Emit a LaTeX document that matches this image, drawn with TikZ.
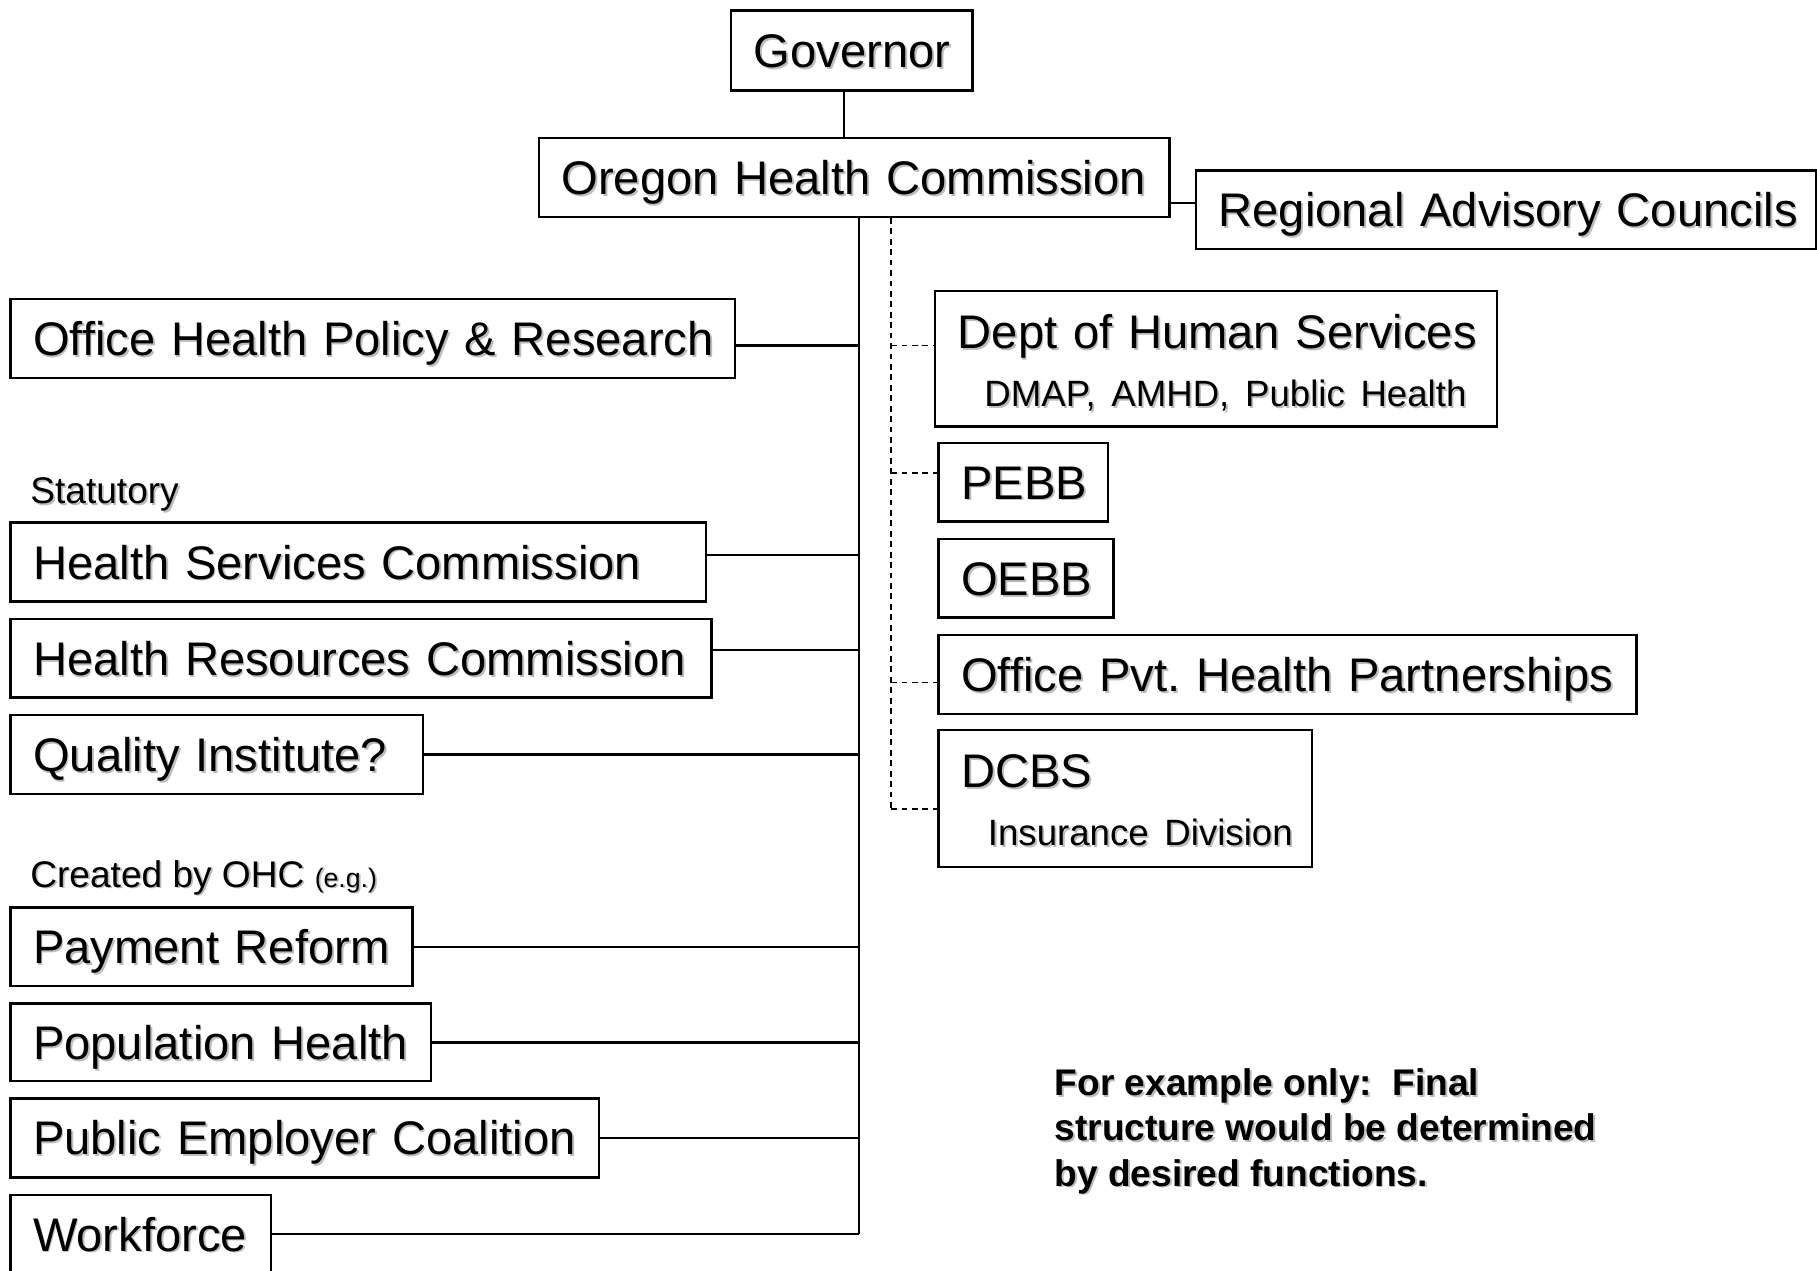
\documentclass[tikz,border=0pt]{standalone}
\usepackage{fontspec}
\setmainfont{Liberation Sans}
\usetikzlibrary{calc}
\frenchspacing
\definecolor{shadowgray}{gray}{0.74}
% text with a soft grey drop shadow
\newcommand\shd[1]{\mbox{\rlap{\kern1.6pt\raisebox{-1.6pt}{\color{shadowgray}#1}}#1}}
\newcommand\subsz{\fontsize{31.6}{50}\selectfont}

\tikzset{
  box/.style={draw, line width=2.1pt, anchor=north west, inner xsep=19.5pt,
    inner ysep=0pt, align=left, font=\fontsize{40.7}{50}\selectfont,
    text height=29.2pt, text depth=0pt},
  link/.style={line width=2pt},
  dlink/.style={line width=1.3pt, dash pattern=on 5pt off 4pt},
  caption/.style={anchor=base west, inner sep=0pt, font=\fontsize{32}{39}\selectfont},
}

\begin{document}
\begin{tikzpicture}[x=1pt, y=-1pt]
\useasboundingbox (0,0) rectangle (1568,1096);
\clip (0,0) rectangle (1568,1096);

% top of the chart
\node[box, minimum width=208pt, text width=169pt, minimum height=69pt] (gov) at (630,8) {\shd{Governor}};
\node[box, minimum width=544pt, text width=505pt, minimum height=68pt] (ohc) at (464,118) {\shd{Oregon Health Commission}};
\node[box, minimum width=535pt, text width=496pt, minimum height=68pt] (rac) at (1031,146) {\shd{Regional Advisory Councils}};

% bodies reporting directly
\node[box, minimum width=625pt, text width=586pt, minimum height=68pt] (ohpr) at (8,257) {\shd{Office Health Policy \& Research}};
\node[caption] (stat) at (26,434.5) {\shd{Statutory}};
\node[box, minimum width=600pt, text width=561pt, minimum height=68pt] (hsc) at (8,450) {\shd{Health Services Commission}};
\node[box, minimum width=605pt, text width=566pt, minimum height=68pt] (hrc) at (8,533) {\shd{Health Resources Commission}};
\node[box, minimum width=356pt, text width=317pt, minimum height=68pt] (qi) at (8,616) {\shd{Quality Institute?}};
\node[caption] (ohcmade) at (26,765.5) {\shd{Created by OHC} {\fontsize{23}{28}\selectfont\shd{(e.g.)}}};
\node[box, minimum width=347pt, text width=308pt, minimum height=68pt] (pr) at (8,782) {\shd{Payment Reform}};
\node[box, minimum width=363pt, text width=324pt, minimum height=67pt] (ph) at (8,865) {\shd{Population Health}};
\node[box, minimum width=508pt, text width=469pt, minimum height=68pt] (pec) at (8,947) {\shd{Public Employer Coalition}};
\node[box, minimum width=225pt, text width=186pt, minimum height=68pt] (wf) at (8,1030) {\shd{Workforce}};

% agencies with a dotted-line relationship
\node[box, minimum width=485pt, text width=446pt, minimum height=117pt, text height=49.7pt, text depth=67.3pt] (dhs) at (806,250)
  {\shd{Dept of Human Services}\\\hspace*{23pt}{\subsz\shd{DMAP, AMHD, Public Health}}};
\node[box, minimum width=146pt, text width=107pt, minimum height=68pt] (pebb) at (809,381) {\shd{PEBB}};
\node[box, minimum width=151pt, text width=112pt, minimum height=68pt] (oebb) at (809,464) {\shd{OEBB}};
\node[box, minimum width=602pt, text width=563pt, minimum height=68pt] (ophp) at (809,547) {\shd{Office Pvt. Health Partnerships}};
\node[box, minimum width=322pt, text width=283pt, minimum height=118pt, text height=49.7pt, text depth=68.3pt] (dcbs) at (809,629)
  {\shd{DCBS}\\\hspace*{23pt}{\subsz\shd{Insurance Division}}};

% note (anchored on the baseline of its last line)
\node[caption, align=left, font=\bfseries\fontsize{32}{39}\selectfont] (note) at (910,1023.5)
  {\shd{For example only: \ Final}\\\shd{structure would be determined}\\\shd{by desired functions.}};

% connectors
\coordinate (sp) at ([xshift=4pt]ohc.south);
\coordinate (dsp) at ([xshift=32pt]ohc.south);
\coordinate (govout) at ([xshift=-7pt]gov.south);
\draw[link] (govout) -- (govout |- ohc.north);
\coordinate (racin) at ([yshift=6pt]rac.west);
\draw[link] (racin) -- (racin -| ohc.east);

\draw[link] (sp) -- (sp |- wf.east);
\foreach \b/\s in {ohpr/-6, hsc/6, hrc/7, qi/0, pr/0, ph/0, pec/0, wf/0}{
  \coordinate (tmp) at ([yshift=\s pt]\b.east);
  \draw[link] (tmp) -- (tmp -| sp);
}

\coordinate (dcbsin) at ([yshift=-9pt]dcbs.west);
\draw[dlink] (dsp) -- (dsp |- dcbsin);
\foreach \b/\s in {dhs/11.5, pebb/8, ophp/-7, dcbs/-9}{
  \coordinate (tmp) at ([yshift=\s pt]\b.west);
  \draw[dlink] (tmp -| dsp) -- (tmp);
}
\end{tikzpicture}
\end{document}
